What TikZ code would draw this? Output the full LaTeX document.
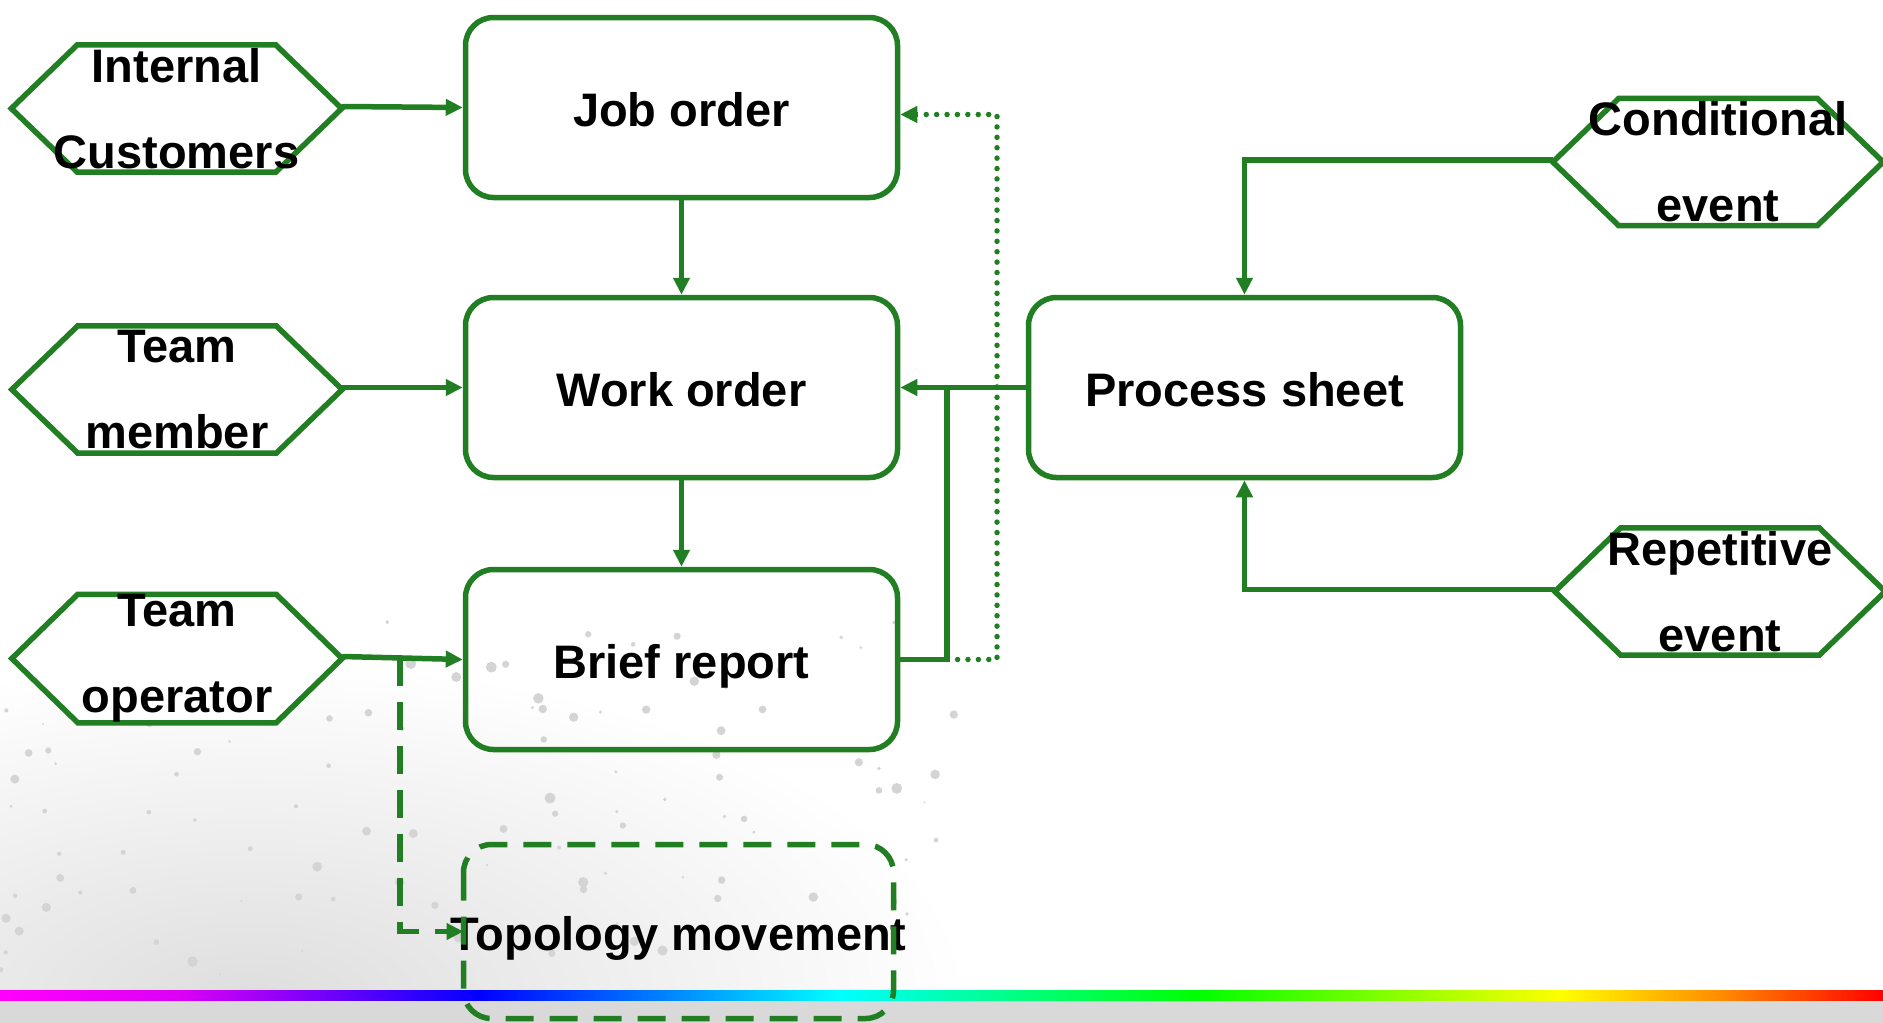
\documentclass[tikz,border=0pt]{standalone}
\usepackage{fontspec}
\setmainfont{Liberation Sans}
\usetikzlibrary{arrows.meta,calc}
\definecolor{gr}{RGB}{34,126,34}
\pgfdeclarelayer{bg}
\pgfdeclarelayer{back}
\pgfsetlayers{bg,back,main}
\begin{document}
\begin{tikzpicture}[x=1pt,y=-1pt,
  box/.style={draw=gr, line width=5.5pt, rounded corners=28pt, minimum width=432pt,
    minimum height=180pt, inner sep=0pt, text height=37.6pt, text depth=0pt,
    font=\fontsize{47}{56}\selectfont\bfseries},
  hexn/.style={minimum width=330pt, minimum height=127pt, inner sep=0pt, align=center,
    font=\fontsize{47}{86}\selectfont\bfseries},
  hexline/.style={draw=gr, line width=5.5pt, line join=miter, fill=white},
  conn/.style={draw=gr, line width=5.5pt},
  arr/.style={conn, -{Triangle[length=17pt,width=16pt]}},
  dotline/.style={draw=gr, line width=5.5pt, line cap=round, dash pattern=on 0pt off 10.4pt},
  dashline/.style={draw=gr, line width=5.5pt, dash pattern=on 28pt off 16pt}
]
\useasboundingbox (0,0) rectangle (1883,1023);
\begin{pgfonlayer}{bg}
  \fill[white] (0,0) rectangle (1883,1023);
  \begin{scope}
    \clip (0,560) rectangle (1883,990);
    \shade[inner color=black!13, outer color=white] (250,1000) ellipse [x radius=720, y radius=340];
  \end{scope}
  \pgfmathsetseed{11}
  \foreach \i in {1,...,120} {
    \pgfmathsetmacro\px{rnd*980}
    \pgfmathsetmacro\py{620+rnd*400}
    \pgfmathsetmacro\pr{1+rnd*4.5}
    \fill[black!17] (\px,\py) circle[radius=\pr];
  }
  \fill[black!15] (0,1000) rectangle (1883,1023);
  \shade[left color={rgb,255:red,255;green,0;blue,255}, right color={rgb,255:red,220;green,0;blue,245}] (0,990) rectangle (180,1000);
  \shade[left color={rgb,255:red,220;green,0;blue,245}, right color={rgb,255:red,0;green,0;blue,255}] (180,990) rectangle (480,1000);
  \shade[left color={rgb,255:red,0;green,0;blue,255}, right color={rgb,255:red,0;green,255;blue,255}] (480,990) rectangle (840,1000);
  \shade[left color={rgb,255:red,0;green,255;blue,255}, right color={rgb,255:red,0;green,255;blue,0}] (840,990) rectangle (1200,1000);
  \shade[left color={rgb,255:red,0;green,255;blue,0}, right color={rgb,255:red,255;green,255;blue,0}] (1200,990) rectangle (1560,1000);
  \shade[left color={rgb,255:red,255;green,255;blue,0}, right color={rgb,255:red,255;green,140;blue,0}] (1560,990) rectangle (1720,1000);
  \shade[left color={rgb,255:red,255;green,140;blue,0}, right color={rgb,255:red,255;green,0;blue,0}] (1720,990) rectangle (1883,1000);
\end{pgfonlayer}

% boxes
\node[box] (job)   at (681.5,107.5) {Job order};
\node[box] (work)  at (681.5,387.5) {Work order};
\node[box] (brief) at (681.5,659.5) {Brief report};
\node[box] (proc)  at (1244.5,387.5) {Process sheet};
\node[box, draw=none] (topo) at (678.5,931.5) {Topology movement};
\coordinate (tnw) at ($(topo.center)+(-215,-87)$);
\coordinate (tse) at ($(topo.center)+(215,87)$);
\coordinate (tw) at ($(topo.center)+(-215,0)$);
\draw[dashline, rounded corners=28pt] (tnw) rectangle (tse);

% hexagon nodes (text set 2pt lower than the outline)
\node[hexn] (ic) at (176.5,108.5) {Internal\\Customers};
\node[hexn] (tm) at (177,389.5) {Team\\member};
\node[hexn] (to) at (177,658.5) {Team\\operator};
\node[hexn] (ce) at (1718,162) {Conditional\\event};
\node[hexn] (re) at (1720,591.5) {Repetitive\\event};
\begin{pgfonlayer}{back}
  \begin{scope}[yshift=2pt]
  \foreach \n in {ic,tm,to,ce,re}
    \draw[hexline] (\n.west) -- ([xshift=66pt]\n.north west) -- ([xshift=-66pt]\n.north east)
      -- (\n.east) -- ([xshift=-66pt]\n.south east) -- ([xshift=66pt]\n.south west) -- cycle;
  \end{scope}
\end{pgfonlayer}

% connectors
\draw[arr] ([yshift=2pt]ic.east) -- (job.west);
\draw[arr] ([yshift=2pt]tm.east) -- (work.west);
\draw[arr] ([yshift=2pt]to.east) -- (brief.west);
\draw[arr] (job.south) -- (work.north);
\draw[arr] (work.south) -- (brief.north);
\draw[arr] (proc.west) -- (work.east);
\coordinate (j1) at ($(work.east)!0.374!(proc.west)$);
\coordinate (j2) at (j1 |- brief.east);
\draw[conn] (brief.east) -| (j1);
\coordinate (d1) at ($(work.east)!0.771!(proc.west)$);
\coordinate (jobin) at ([yshift=-7pt]job.east);
\draw[dotline] (j2) -| (d1 |- jobin) -- ([xshift=17pt]jobin);
\draw[arr] ([xshift=17.5pt]jobin) -- (jobin);
\draw[arr] ([yshift=2pt]ce.west) -| (proc.north);
\draw[arr] ([yshift=2pt]re.west) -| (proc.south);
\coordinate (dj) at ($([yshift=2pt]to.east)!0.48!(brief.west)$);
\draw[dashline] (dj) |- ([xshift=-17pt]tw);
\draw[arr] ([xshift=-17.5pt]tw) -- (tw);
\end{tikzpicture}
\end{document}
